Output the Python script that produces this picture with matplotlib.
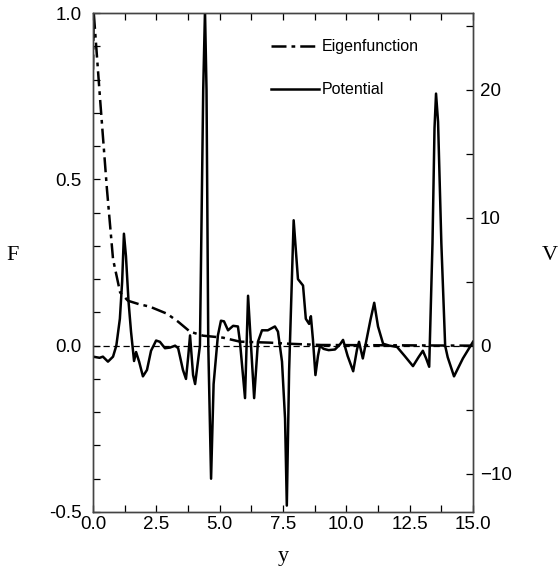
import matplotlib
matplotlib.use("Agg")
from matplotlib import pyplot as plt
from matplotlib.ticker import MultipleLocator

# Eigenfunction F(y)
eig_y = [0.0, 0.03, 0.28, 0.55, 0.79, 1.07, 1.38, 1.8, 2.25, 2.92, 3.36,
         3.83, 4.34, 5.13, 5.8, 6.99, 7.66, 9.0, 15.0]
eig_F = [0.83, 1.0, 0.74, 0.47, 0.26, 0.16, 0.135, 0.125, 0.117, 0.096, 0.072,
         0.042, 0.03, 0.024, 0.012, 0.009, 0.006, 0.002, 0.0]

# Potential V(y)
pot_y = [0.0, 0.26, 0.39, 0.59, 0.79, 0.92, 1.06, 1.15, 1.22, 1.3, 1.4, 1.5,
         1.62, 1.7, 1.82, 1.97, 2.13, 2.29, 2.49, 2.64, 2.84, 3.04, 3.24,
         3.36, 3.55, 3.67, 3.76, 3.83, 3.9, 3.95, 4.03, 4.22, 4.35, 4.42,
         4.48, 4.55, 4.66, 4.76, 4.93, 5.05, 5.17, 5.33, 5.53, 5.72, 5.8,
         6.0, 6.12, 6.36, 6.51, 6.67, 6.9, 7.18, 7.3, 7.46, 7.58, 7.65,
         7.74, 7.92, 8.09, 8.29, 8.4, 8.53, 8.6, 8.68, 8.78, 8.88, 8.96,
         9.1, 9.3, 9.55, 9.75, 9.87, 10.05, 10.27, 10.42, 10.5, 10.65, 10.82,
         10.95, 11.1, 11.25, 11.45, 11.7, 12.0, 12.3, 12.63, 12.85, 13.02,
         13.15, 13.27, 13.4, 13.48, 13.54, 13.62, 13.75, 13.9, 14.0, 14.25,
         14.6, 15.0]
pot_V = [-0.86, -0.95, -0.86, -1.25, -0.86, 0.0, 2.1, 5.0, 8.75, 7.0, 3.5,
         1.1, -1.2, -0.5, -1.25, -2.4, -1.9, -0.4, 0.4, 0.3, -0.2, -0.15, 0.0,
         -0.2, -1.9, -2.6, -0.8, 0.8, -1.0, -2.3, -3.0, 0.0, 20.0, 26.2,
         20.0, 0.0, -10.4, -3.0, 0.8, 1.95, 1.9, 1.2, 1.55, 1.5, 0.3,
         -4.1, 3.9, -4.1, 0.3, 1.2, 1.2, 1.5, 1.1, -1.25, -5.7, -12.5,
         -2.0, 9.8, 5.2, 4.7, 2.1, 1.7, 2.3, 0.5, -2.3, -0.8, 0.0,
         -0.25, -0.35, -0.3, 0.1, 0.45, -0.8, -2.0, -0.3, 0.3, -1.0, 0.7,
         2.0, 3.35, 1.5, 0.15, 0.0, -0.1, -0.8, -1.6, -0.9, -0.4,
         -1.0, -1.65, 8.0, 17.0, 19.7, 17.5, 8.0, 0.0, -0.9, -2.4,
         -1.0, 0.3]

plt.rcParams['font.family'] = ['Liberation Sans', 'DejaVu Sans']

fig, ax = plt.subplots(figsize=(5.58, 5.73), dpi=100)
fig.subplots_adjust(left=0.1667, right=0.8477, top=0.9773, bottom=0.1065)
ax2 = ax.twinx()

ax.axhline(0, color='black', lw=0.9, ls=(0, (5, 3)))
l1, = ax.plot(eig_y, eig_F, color='black', lw=1.8,
              ls=(0, (6, 2, 1.5, 2)), label='Eigenfunction')
l2, = ax2.plot(pot_y, pot_V, color='black', lw=1.8, label='Potential',
               solid_joinstyle='round')

ax.set_xlim(0, 15)
ax.set_ylim(-0.5, 1.0)
ax2.set_ylim(-13, 26)

ax.xaxis.set_major_locator(MultipleLocator(2.5))
ax.xaxis.set_minor_locator(MultipleLocator(1.25))
ax.yaxis.set_major_locator(MultipleLocator(0.5))
ax.yaxis.set_minor_locator(MultipleLocator(0.1))
ax2.yaxis.set_major_locator(MultipleLocator(10))
ax2.yaxis.set_minor_locator(MultipleLocator(5))
ax.xaxis.set_major_formatter(plt.FormatStrFormatter('%.1f'))
ax.yaxis.set_major_formatter(plt.FormatStrFormatter('%.1f'))

ax.tick_params(axis='both', which='both', direction='in', top=True,
               length=5, width=0.9, labelsize=13.5)
ax.tick_params(axis='y', pad=8)
ax.tick_params(axis='x', pad=3)
ax2.tick_params(axis='y', which='both', direction='in', length=5,
                width=0.9, labelsize=13.5, pad=5)
for a in (ax, ax2):
    for s in a.spines.values():
        s.set_linewidth(1.0)
        s.set_color('#444444')

serif = ['Liberation Serif', 'DejaVu Serif']
fig.text(13 / 558, 1 - 256 / 573, 'F', family=serif, fontsize=16,
         ha='center', va='center')
fig.text(550 / 558, 1 - 256 / 573, 'V', family=serif, fontsize=16,
         ha='center', va='center')
fig.text(283 / 558, 1 - 556 / 573, 'y', family=serif, fontsize=16,
         ha='center', va='center')

ax2.legend(handles=[l1, l2], loc='upper left', bbox_to_anchor=(0.43, 0.976),
           frameon=False, fontsize=11.5, handlelength=3.0, labelspacing=1.75,
           handletextpad=0.2)

fig.savefig('out.png', dpi=100)
